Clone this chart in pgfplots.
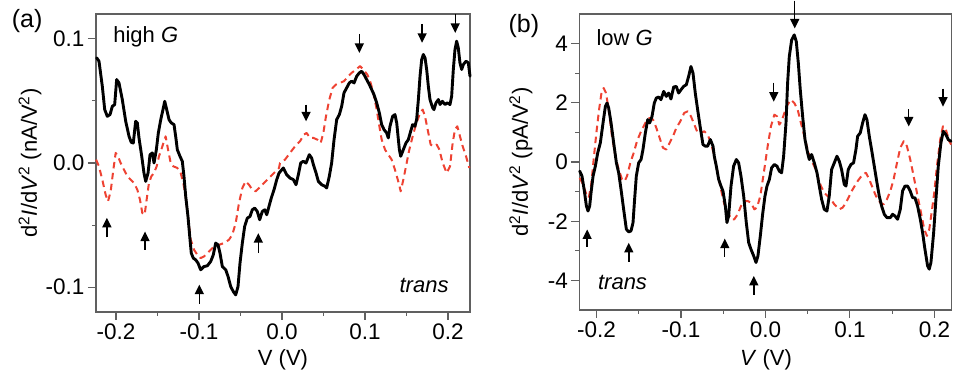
\documentclass[border=0pt]{standalone}
\usepackage{pgfplots}
\pgfplotsset{compat=1.18}
\usepackage{fontspec}
\setmainfont{Liberation Sans}
\usetikzlibrary{arrows.meta}
\definecolor{frame}{RGB}{96,96,96}
\definecolor{dred}{RGB}{238,66,50}
\tikzset{marrow/.style={-{Triangle[length=9.5pt,width=9pt]}, line width=1.4pt, black}}
\pgfplotsset{
  panel/.style={
    scale only axis,
    clip=false,
    axis line style={draw=frame, line width=1.2pt},
    tick style={draw=frame, line width=1.1pt},
    tick align=outside,
    tick pos=left,
    major tick length=8pt,
    minor tick length=4pt,
    minor x tick num=1,
    minor y tick num=1,
    tick label style={font=\fontsize{22.5}{26}\selectfont, text=black},
    label style={font=\fontsize{22}{26}\selectfont},
    xtick={-0.2,-0.1,0,0.1,0.2},
    xticklabels={-0.2,-0.1,0.0,0.1,0.2},
  },
  blk/.style={black, line width=2.9pt, line join=round, line cap=round, no markers},
  rdd/.style={dred, line width=2pt, dash pattern=on 6.5pt off 4.5pt, line join=round, no markers},
}
\begin{document}
\begin{tikzpicture}
\path[use as bounding box] (-96pt,-62pt) rectangle (857pt,312pt);
% ---------------- panel (a)
\begin{axis}[panel,
  at={(0pt,0pt)}, anchor=south west,
  width=374pt, height=298pt,
  xmin=-0.2241, xmax=0.2265, ymin=-0.12, ymax=0.12,
  ytick={-0.1,0,0.1}, yticklabels={-0.1,0.0,0.1},
  xlabel={V (V)},
  xlabel style={at={(axis description cs:0.5,-0.161)}, anchor=center},
  ylabel={d\textsuperscript{2}\textit{I}/d\textit{V}\textsuperscript{2} (nA/V\textsuperscript{2})},
  ylabel style={at={(axis description cs:-0.1765,0.5)}, anchor=center},
]
\addplot[rdd] coordinates {
(-0.2240,0.0027)(-0.2205,-0.0027)(-0.2165,-0.0134)(-0.2125,-0.0255)(-0.2096,-0.0309)
(-0.2064,-0.0228)(-0.2032,-0.0054)(-0.2004,0.0081)(-0.1976,0.0054)(-0.1944,0.0000)
(-0.1904,-0.0054)(-0.1863,-0.0107)(-0.1823,-0.0134)(-0.1783,-0.0161)(-0.1743,-0.0215)
(-0.1711,-0.0296)(-0.1683,-0.0403)(-0.1655,-0.0417)(-0.1631,-0.0296)(-0.1603,-0.0161)
(-0.1574,-0.0107)(-0.1542,-0.0080)(-0.1510,-0.0027)(-0.1482,0.0054)(-0.1454,0.0108)
(-0.1422,0.0175)(-0.1402,0.0215)(-0.1373,0.0108)(-0.1341,0.0000)(-0.1309,-0.0027)
(-0.1261,-0.0040)(-0.1221,-0.0080)(-0.1189,-0.0161)(-0.1161,-0.0269)(-0.1133,-0.0430)
(-0.1100,-0.0618)(-0.1060,-0.0699)(-0.1020,-0.0739)(-0.0980,-0.0766)(-0.0940,-0.0753)
(-0.0900,-0.0726)(-0.0859,-0.0699)(-0.0819,-0.0672)(-0.0759,-0.0659)(-0.0699,-0.0645)
(-0.0639,-0.0618)(-0.0599,-0.0578)(-0.0558,-0.0484)(-0.0518,-0.0322)(-0.0478,-0.0202)
(-0.0438,-0.0148)(-0.0398,-0.0175)(-0.0358,-0.0215)(-0.0317,-0.0228)(-0.0277,-0.0202)
(-0.0217,-0.0161)(-0.0157,-0.0121)(-0.0096,-0.0080)(-0.0036,-0.0040)(-0.0024,0.0000)
(0.0036,0.0027)(0.0096,0.0081)(0.0157,0.0134)(0.0217,0.0175)(0.0265,0.0229)
(0.0297,0.0242)(0.0337,0.0202)(0.0378,0.0202)(0.0426,0.0188)(0.0466,0.0161)
(0.0498,0.0242)(0.0530,0.0377)(0.0570,0.0511)(0.0610,0.0605)(0.0651,0.0632)
(0.0699,0.0645)(0.0747,0.0659)(0.0799,0.0699)(0.0839,0.0726)(0.0892,0.0753)
(0.0940,0.0780)(0.0980,0.0753)(0.1028,0.0712)(0.1068,0.0645)(0.1100,0.0565)
(0.1141,0.0430)(0.1173,0.0296)(0.1201,0.0188)(0.1241,0.0108)(0.1281,0.0067)
(0.1321,0.0027)(0.1361,-0.0054)(0.1406,-0.0161)(0.1430,-0.0228)(0.1462,-0.0134)
(0.1494,-0.0027)(0.1534,0.0108)(0.1574,0.0215)(0.1614,0.0309)(0.1663,0.0403)
(0.1695,0.0430)(0.1723,0.0376)(0.1763,0.0242)(0.1791,0.0148)(0.1823,0.0134)
(0.1864,0.0148)(0.1896,0.0108)(0.1936,0.0000)(0.1984,-0.0080)(0.2024,-0.0027)
(0.2056,0.0161)(0.2084,0.0269)(0.2112,0.0296)(0.2144,0.0215)(0.2177,0.0134)
(0.2217,0.0054)(0.2257,-0.0040)
};
\addplot[blk] coordinates {
(-0.2233,0.0847)(-0.2205,0.0820)(-0.2165,0.0618)(-0.2136,0.0430)(-0.2105,0.0376)
(-0.2072,0.0390)(-0.2044,0.0457)(-0.2016,0.0470)(-0.1992,0.0672)(-0.1964,0.0645)
(-0.1924,0.0510)(-0.1883,0.0336)(-0.1843,0.0215)(-0.1816,0.0166)(-0.1792,0.0161)
(-0.1763,0.0336)(-0.1743,0.0323)(-0.1723,0.0202)(-0.1690,0.0054)(-0.1663,-0.0081)
(-0.1642,-0.0148)(-0.1614,-0.0081)(-0.1590,0.0067)(-0.1562,0.0081)(-0.1542,0.0000)
(-0.1514,0.0107)(-0.1490,0.0242)(-0.1461,0.0349)(-0.1434,0.0430)(-0.1413,0.0497)
(-0.1389,0.0430)(-0.1361,0.0349)(-0.1334,0.0323)(-0.1301,0.0309)(-0.1281,0.0215)
(-0.1261,0.0107)(-0.1229,0.0054)(-0.1201,0.0013)(-0.1181,-0.0108)(-0.1160,-0.0269)
(-0.1133,-0.0431)(-0.1108,-0.0619)(-0.1093,-0.0726)(-0.1069,-0.0766)(-0.1040,-0.0780)
(-0.1012,-0.0806)(-0.0980,-0.0860)(-0.0940,-0.0834)(-0.0900,-0.0828)(-0.0859,-0.0793)
(-0.0828,-0.0740)(-0.0799,-0.0645)(-0.0771,-0.0659)(-0.0747,-0.0726)(-0.0719,-0.0834)
(-0.0678,-0.0860)(-0.0650,-0.0914)(-0.0618,-0.0995)(-0.0587,-0.1035)(-0.0558,-0.1062)
(-0.0530,-0.0995)(-0.0506,-0.0806)(-0.0478,-0.0645)(-0.0450,-0.0511)(-0.0418,-0.0444)
(-0.0386,-0.0431)(-0.0358,-0.0377)(-0.0329,-0.0363)(-0.0298,-0.0390)(-0.0269,-0.0457)
(-0.0237,-0.0390)(-0.0208,-0.0377)(-0.0184,-0.0417)(-0.0157,-0.0350)(-0.0129,-0.0282)
(-0.0096,-0.0215)(-0.0064,-0.0135)(-0.0036,-0.0081)(0.0016,-0.0040)(0.0056,-0.0094)
(0.0096,-0.0121)(0.0137,-0.0134)(0.0169,-0.0175)(0.0197,-0.0094)(0.0225,0.0000)
(0.0257,0.0014)(0.0289,0.0000)(0.0329,0.0067)(0.0357,0.0040)(0.0378,-0.0013)
(0.0410,-0.0080)(0.0438,-0.0148)(0.0478,-0.0175)(0.0518,-0.0188)(0.0538,-0.0201)
(0.0570,-0.0107)(0.0598,0.0000)(0.0627,0.0188)(0.0659,0.0350)(0.0691,0.0390)
(0.0719,0.0457)(0.0747,0.0565)(0.0779,0.0605)(0.0811,0.0645)(0.0839,0.0659)
(0.0868,0.0645)(0.0900,0.0699)(0.0932,0.0726)(0.0960,0.0739)(0.0988,0.0712)
(0.1020,0.0672)(0.1052,0.0632)(0.1080,0.0592)(0.1108,0.0551)(0.1141,0.0484)
(0.1173,0.0403)(0.1201,0.0309)(0.1229,0.0269)(0.1261,0.0242)(0.1281,0.0202)
(0.1301,0.0296)(0.1333,0.0376)(0.1361,0.0390)(0.1382,0.0323)(0.1414,0.0108)
(0.1430,0.0054)(0.1462,0.0108)(0.1494,0.0162)(0.1522,0.0188)(0.1550,0.0255)
(0.1574,0.0309)(0.1602,0.0296)(0.1622,0.0350)(0.1643,0.0511)(0.1663,0.0699)
(0.1683,0.0833)(0.1703,0.0874)(0.1723,0.0847)(0.1743,0.0753)(0.1763,0.0618)
(0.1783,0.0511)(0.1815,0.0444)(0.1831,0.0430)(0.1855,0.0484)(0.1884,0.0511)
(0.1904,0.0471)(0.1932,0.0497)(0.1964,0.0471)(0.1992,0.0484)(0.2024,0.0471)
(0.2044,0.0538)(0.2064,0.0753)(0.2084,0.0914)(0.2104,0.0981)(0.2124,0.0927)
(0.2144,0.0807)(0.2165,0.0753)(0.2185,0.0793)(0.2217,0.0820)(0.2245,0.0807)
(0.2265,0.0699)
};
% arrows
\draw[marrow] (axis cs:-0.2110,-0.0600) -- (axis cs:-0.2110,-0.0441);
\draw[marrow] (axis cs:-0.1650,-0.0700) -- (axis cs:-0.1650,-0.0552);
\draw[marrow] (axis cs:-0.0996,-0.1135) -- (axis cs:-0.0996,-0.0980);
\draw[marrow] (axis cs:-0.0285,-0.0725) -- (axis cs:-0.0285,-0.0565);
\draw[marrow] (axis cs:0.0290,0.0470) -- (axis cs:0.0290,0.0335);
\draw[marrow] (axis cs:0.0932,0.1040) -- (axis cs:0.0932,0.0887);
\draw[marrow] (axis cs:0.1688,0.1120) -- (axis cs:0.1688,0.0968);
\draw[marrow] (axis cs:0.2087,0.1200) -- (axis cs:0.2087,0.1048);
\node[anchor=center, font=\fontsize{25}{28}\selectfont] at (axis description cs:-0.184,0.975) {(a)};
\node[anchor=base west, font=\fontsize{22}{26}\selectfont] at (axis description cs:0.037,0.903) {high \textit{G}};
\node[anchor=base east, font=\fontsize{22}{26}\selectfont] at (axis description cs:0.952,0.064) {\textit{trans}};
\end{axis}
% ---------------- panel (b)
\begin{axis}[panel,
  at={(483.3pt,2pt)}, anchor=south west,
  width=372pt, height=296pt,
  xmin=-0.2204, xmax=0.2200, ymin=-5, ymax=5,
  ytick={-4,-2,0,2,4}, yticklabels={-4,-2,0,2,4},
  xlabel={\textit{V} (V)},
  xlabel style={at={(axis description cs:0.502,-0.169)}, anchor=center},
  ylabel={d\textsuperscript{2}\textit{I}/d\textit{V}\textsuperscript{2} (pA/V\textsuperscript{2})},
  ylabel style={at={(axis description cs:-0.157,0.5)}, anchor=center},
]
\addplot[rdd] coordinates {
(-0.2199,-0.533)(-0.2160,-0.757)(-0.2120,-1.094)(-0.2093,-1.206)(-0.2065,-0.813)
(-0.2034,0.084)(-0.2002,0.982)(-0.1970,1.768)(-0.1939,2.385)(-0.1915,2.497)
(-0.1888,2.329)(-0.1856,1.768)(-0.1817,0.870)(-0.1777,0.197)(-0.1738,-0.252)
(-0.1698,-0.589)(-0.1667,-0.645)(-0.1639,-0.477)(-0.1600,-0.028)(-0.1560,0.309)
(-0.1521,0.702)(-0.1481,0.982)(-0.1442,1.207)(-0.1402,1.431)(-0.1371,1.487)
(-0.1331,1.431)(-0.1292,1.151)(-0.1253,0.814)(-0.1213,0.477)(-0.1174,0.421)
(-0.1134,0.646)(-0.1095,0.870)(-0.1055,1.151)(-0.1008,1.375)(-0.0962,1.656)
(-0.0921,1.712)(-0.0882,1.543)(-0.0842,1.263)(-0.0803,0.982)(-0.0763,0.982)
(-0.0724,1.038)(-0.0685,0.926)(-0.0645,0.646)(-0.0606,0.197)(-0.0566,-0.364)
(-0.0527,-0.926)(-0.0487,-1.431)(-0.0448,-1.655)(-0.0408,-1.936)(-0.0369,-1.936)
(-0.0329,-1.768)(-0.0290,-1.487)(-0.0250,-1.318)(-0.0211,-1.318)(-0.0172,-1.375)
(-0.0132,-1.599)(-0.0101,-1.543)(-0.0061,-1.150)(-0.0014,-0.253)(0.0026,0.533)
(0.0065,1.206)(0.0105,1.599)(0.0136,1.543)(0.0164,1.262)(0.0191,1.375)
(0.0223,1.655)(0.0262,1.936)(0.0302,2.104)(0.0341,1.992)(0.0381,1.768)
(0.0420,1.318)(0.0460,0.870)(0.0499,0.421)(0.0538,0.084)(0.0578,-0.140)
(0.0617,-0.477)(0.0657,-0.814)(0.0696,-1.039)(0.0736,-1.151)(0.0775,-1.263)
(0.0815,-1.431)(0.0874,-1.600)(0.0913,-1.543)(0.0953,-1.375)(0.0992,-1.151)
(0.1032,-0.926)(0.1091,-0.646)(0.1150,-0.421)(0.1189,-0.365)(0.1229,-0.590)
(0.1268,-0.870)(0.1308,-1.151)(0.1359,-1.375)(0.1398,-1.431)(0.1438,-1.263)
(0.1478,-0.983)(0.1517,-0.590)(0.1557,-0.028)(0.1596,0.477)(0.1636,0.701)
(0.1675,0.533)(0.1714,0.084)(0.1754,-0.477)(0.1801,-1.151)(0.1841,-1.712)
(0.1880,-2.273)(0.1911,-2.497)(0.1939,-2.273)(0.1967,-1.712)(0.1998,-1.039)
(0.2030,-0.140)(0.2069,0.757)(0.2101,1.206)(0.2136,1.094)(0.2176,0.701)
(0.2199,0.589)
};
\addplot[blk] coordinates {
(-0.2199,-0.308)(-0.2172,-0.477)(-0.2144,-0.982)(-0.2120,-1.487)(-0.2101,-1.655)
(-0.2081,-1.487)(-0.2065,-1.038)(-0.2041,-0.477)(-0.2014,-0.140)(-0.1986,0.309)
(-0.1955,0.646)(-0.1923,1.319)(-0.1895,1.880)(-0.1876,1.993)(-0.1856,1.824)
(-0.1828,1.319)(-0.1797,0.646)(-0.1765,-0.028)(-0.1738,-0.364)(-0.1710,-0.926)
(-0.1679,-1.599)(-0.1647,-2.272)(-0.1619,-2.362)(-0.1592,-2.328)(-0.1568,-2.048)
(-0.1552,-1.375)(-0.1529,-0.477)(-0.1501,-0.028)(-0.1473,0.084)(-0.1450,0.421)
(-0.1422,0.982)(-0.1394,1.431)(-0.1371,1.319)(-0.1343,1.543)(-0.1316,1.993)
(-0.1292,2.161)(-0.1265,2.195)(-0.1237,2.105)(-0.1205,2.385)(-0.1174,2.217)
(-0.1146,2.329)(-0.1119,2.127)(-0.1087,2.531)(-0.1056,2.554)(-0.1028,2.329)
(-0.1000,2.441)(-0.0969,2.554)(-0.0937,2.610)(-0.0910,2.890)(-0.0882,3.227)
(-0.0858,3.003)(-0.0831,2.329)(-0.0803,1.768)(-0.0771,1.151)(-0.0740,0.590)
(-0.0712,0.534)(-0.0685,0.534)(-0.0653,0.758)(-0.0621,0.534)(-0.0606,0.197)
(-0.0582,-0.140)(-0.0554,-0.589)(-0.0527,-0.813)(-0.0503,-0.982)(-0.0475,-1.487)
(-0.0456,-2.048)(-0.0436,-1.823)(-0.0408,-0.813)(-0.0377,-0.140)(-0.0345,0.084)
(-0.0318,-0.028)(-0.0290,-0.477)(-0.0258,-1.150)(-0.0227,-2.048)(-0.0199,-2.721)
(-0.0172,-2.946)(-0.0140,-3.170)(-0.0112,-3.395)(-0.0089,-3.170)(-0.0061,-2.497)
(-0.0033,-1.750)(-0.0006,-1.151)(0.0018,-0.814)(0.0046,-0.589)(0.0073,-0.197)
(0.0105,-0.084)(0.0136,-0.140)(0.0164,-0.309)(0.0191,-0.365)(0.0215,0.196)
(0.0243,1.318)(0.0262,2.665)(0.0282,3.563)(0.0310,4.124)(0.0341,4.293)
(0.0365,4.068)(0.0389,3.339)(0.0412,2.441)(0.0440,1.543)(0.0468,0.757)
(0.0499,0.308)(0.0519,0.084)(0.0546,0.252)(0.0578,-0.028)(0.0610,-0.365)
(0.0637,-0.814)(0.0665,-1.263)(0.0696,-1.600)(0.0728,-1.656)(0.0755,-1.151)
(0.0783,-0.253)(0.0815,-0.028)(0.0846,0.196)(0.0874,0.028)(0.0901,-0.253)
(0.0933,-0.758)(0.0953,-0.814)(0.0980,-0.253)(0.1012,-0.084)(0.1043,-0.028)
(0.1071,0.421)(0.1091,0.870)(0.1122,0.982)(0.1150,1.318)(0.1178,1.599)
(0.1201,1.431)(0.1229,0.870)(0.1256,0.421)(0.1288,-0.140)(0.1320,-0.702)
(0.1347,-1.151)(0.1375,-1.487)(0.1407,-1.768)(0.1438,-1.880)(0.1478,-1.880)
(0.1505,-1.768)(0.1533,-1.824)(0.1564,-1.936)(0.1596,-1.600)(0.1623,-0.983)
(0.1651,-0.814)(0.1683,-0.814)(0.1714,-0.983)(0.1742,-1.207)(0.1769,-1.207)
(0.1801,-1.487)(0.1833,-1.936)(0.1860,-2.385)(0.1888,-2.946)(0.1919,-3.508)
(0.1939,-3.620)(0.1959,-3.395)(0.1991,-2.385)(0.2018,-1.263)(0.2046,-0.140)
(0.2077,0.645)(0.2105,1.038)(0.2136,0.926)(0.2164,0.757)(0.2196,0.701)
};
\draw[marrow] (axis cs:-0.2111,-2.86) -- (axis cs:-0.2111,-2.28);
\draw[marrow] (axis cs:-0.1618,-3.37) -- (axis cs:-0.1618,-2.73);
\draw[marrow] (axis cs:-0.0482,-3.20) -- (axis cs:-0.0482,-2.59);
\draw[marrow] (axis cs:-0.0138,-4.49) -- (axis cs:-0.0138,-3.85);
\draw[marrow] (axis cs:0.0347,5.45) -- (axis cs:0.0347,4.51);
\draw[marrow] (axis cs:0.0098,2.68) -- (axis cs:0.0098,2.04);
\draw[marrow] (axis cs:0.1696,1.78) -- (axis cs:0.1696,1.20);
\draw[marrow] (axis cs:0.2102,2.48) -- (axis cs:0.2102,1.87);
\node[anchor=center, font=\fontsize{25}{28}\selectfont] at (axis description cs:-0.149,0.961) {(b)};
\node[anchor=base west, font=\fontsize{22}{26}\selectfont] at (axis description cs:0.037,0.895) {low \textit{G}};
\node[anchor=base west, font=\fontsize{22}{26}\selectfont] at (axis description cs:0.041,0.068) {\textit{trans}};
\end{axis}
\end{tikzpicture}
\end{document}
